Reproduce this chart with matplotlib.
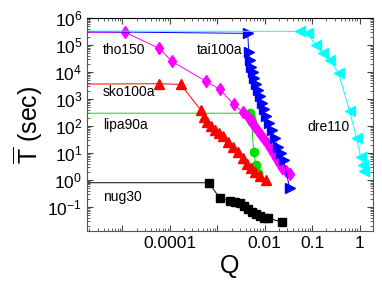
import numpy as np
import matplotlib
matplotlib.use('Agg')
import matplotlib.pyplot as plt
from matplotlib.ticker import FixedLocator, LogLocator, NullFormatter, FuncFormatter

plt.rcParams['font.family'] = ['Liberation Sans', 'DejaVu Sans']
plt.rcParams['mathtext.fontset'] = 'custom'
plt.rcParams['mathtext.rm'] = 'Liberation Sans'
plt.rcParams['mathtext.it'] = 'Liberation Sans:italic'
plt.rcParams['mathtext.bf'] = 'Liberation Sans:bold'

# Q = fraction, T = time (sec); first point is the flat start at the left edge
q0 = 1e-7

dre110_q = [q0, 0.055, 0.080, 0.119, 0.166, 0.233, 0.361, 0.615, 0.865, 1.05, 1.16, 1.21]
dre110_t = [3.3e5, 3.2e5, 2.7e5, 9.8e4, 5.0e4, 2.8e4, 9.1e3, 355, 36, 7.1, 3.6, 2.1]

tai100a_q = [q0, 0.00438, 0.0046, 0.00483, 0.00507, 0.0056, 0.00587, 0.0065, 0.0071,
             0.0079, 0.0087, 0.0095, 0.0105, 0.0121, 0.0140, 0.0162, 0.0188, 0.0217,
             0.0251, 0.0336]
tai100a_t = [3.3e5, 2.7e5, 5.4e4, 2.7e4, 1.6e4, 9.8e3, 5.8e3, 3.5e3, 2.1e3, 1.27e3,
             700, 420, 232, 129, 71, 36, 16.6, 10, 5.5, 0.5]

tho150_q = [q0, 1.13e-5, 5.9e-5, 1.1e-4, 5.7e-4, 1.13e-3, 2.2e-3, 3.44e-3, 4.4e-3,
            5.07e-3, 5.6e-3, 6.2e-3, 7.1e-3, 8.2e-3, 9.5e-3, 0.0110, 0.0127, 0.0147,
            0.0170, 0.0197, 0.0228, 0.0277, 0.0336]
tho150_t = [2.96e5, 2.96e5, 7.6e4, 2.5e4, 4.6e3, 2.3e3, 645, 326, 214, 165, 117, 91,
            65, 46, 33, 23, 15, 10, 6.5, 4.25, 2.8, 2.15, 1.67]

sko100a_q = [q0, 5.9e-5, 1.7e-4, 4.5e-4, 5.2e-4, 6.0e-4, 7.3e-4, 8.9e-4, 1.08e-3,
             1.3e-3, 1.66e-3, 2.1e-3, 2.7e-3, 3.44e-3, 4.18e-3, 5.07e-3, 6.16e-3,
             7.8e-3, 0.0105]
sko100a_t = [3.5e3, 3.7e3, 3.5e3, 385, 214, 139, 99, 70, 55, 42, 25, 16.6, 10.8, 6.5,
             3.9, 2.8, 2.0, 1.4, 1.0]

lipa90a_q = [q0, 4.83e-3, 5.07e-3, 5.3e-3, 5.87e-3, 6.5e-3, 7.1e-3]
lipa90a_t = [300, 300, 195, 139, 10.8, 3.6, 1.8]

nug30_q = [q0, 6.6e-4, 1.13e-3, 1.83e-3, 2.33e-3, 2.98e-3, 3.6e-3, 4.4e-3, 5.3e-3,
           6.5e-3, 7.8e-3, 9.5e-3, 0.0116, 0.0228]
nug30_t = [0.8, 0.8, 0.216, 0.167, 0.154, 0.141, 0.11, 0.085, 0.066, 0.055, 0.047,
           0.040, 0.040, 0.028]

labels = ['tho150', 'sko100a', 'lipa90a', 'nug30', 'tai100a', 'dre110']
label_pos = [(103, 50), (103, 92), (103, 125), (103, 197), (197, 50), (307, 127)]

fig = plt.figure(figsize=(3.82, 2.86), dpi=100)
ax = fig.add_axes([0.228, 0.192, 0.748, 0.745])

lw = 0.7
ax.plot(nug30_q, nug30_t, '-s', color='black', lw=lw, ms=5.5)
ax.plot(lipa90a_q, lipa90a_t, '-o', color='#00e000', lw=lw, ms=6)
ax.plot(sko100a_q, sko100a_t, '-^', color='red', lw=lw, ms=7)
ax.plot(tho150_q, tho150_t, '-d', color='magenta', lw=lw, ms=6)
ax.plot(tai100a_q, tai100a_t, '->', color='blue', lw=lw, ms=7)
ax.plot(dre110_q, dre110_t, '-<', color='cyan', lw=lw, ms=7)

ax.set_xscale('log')
ax.set_yscale('log')
ax.set_xlim(1.8e-6, 1.9)
ax.set_ylim(0.013, 1e6)

ax.xaxis.set_major_locator(FixedLocator([1e-5, 1e-4, 1e-3, 1e-2, 1e-1, 1]))
xlabels = {1e-4: '0.0001', 1e-2: '0.01', 1e-1: '0.1', 1: '1'}
ax.xaxis.set_major_formatter(FuncFormatter(
    lambda v, p: next((s for k, s in xlabels.items() if abs(np.log10(v) - np.log10(k)) < 1e-6), '')))
ax.xaxis.set_minor_locator(LogLocator(base=10, subs=np.arange(2, 10), numticks=20))
ax.xaxis.set_minor_formatter(NullFormatter())
ax.yaxis.set_major_locator(FixedLocator([10.0**k for k in range(-1, 7)]))
ax.yaxis.set_minor_locator(LogLocator(base=10, subs=np.arange(2, 10), numticks=20))
ax.yaxis.set_minor_formatter(NullFormatter())

ax.tick_params(which='both', direction='in', top=True, right=True, labelsize=12.5,
               colors='#444444', labelcolor='black')
ax.tick_params(which='major', length=4)
ax.tick_params(which='minor', length=2)
for s in ax.spines.values():
    s.set_color('#555555')
ax.spines['top'].set_color('black')

for name, (px, py) in zip(labels, label_pos):
    ax.annotate(name, xy=(px / 382, 1 - py / 286), xycoords='figure fraction',
                fontsize=10, va='center', ha='left')

ax.set_xlabel('Q', fontsize=18, labelpad=2)
ax.set_ylabel(r'$\overline{\mathrm{T}}$ (sec)', fontsize=18, labelpad=2)

fig.savefig('out.png', dpi=100)
